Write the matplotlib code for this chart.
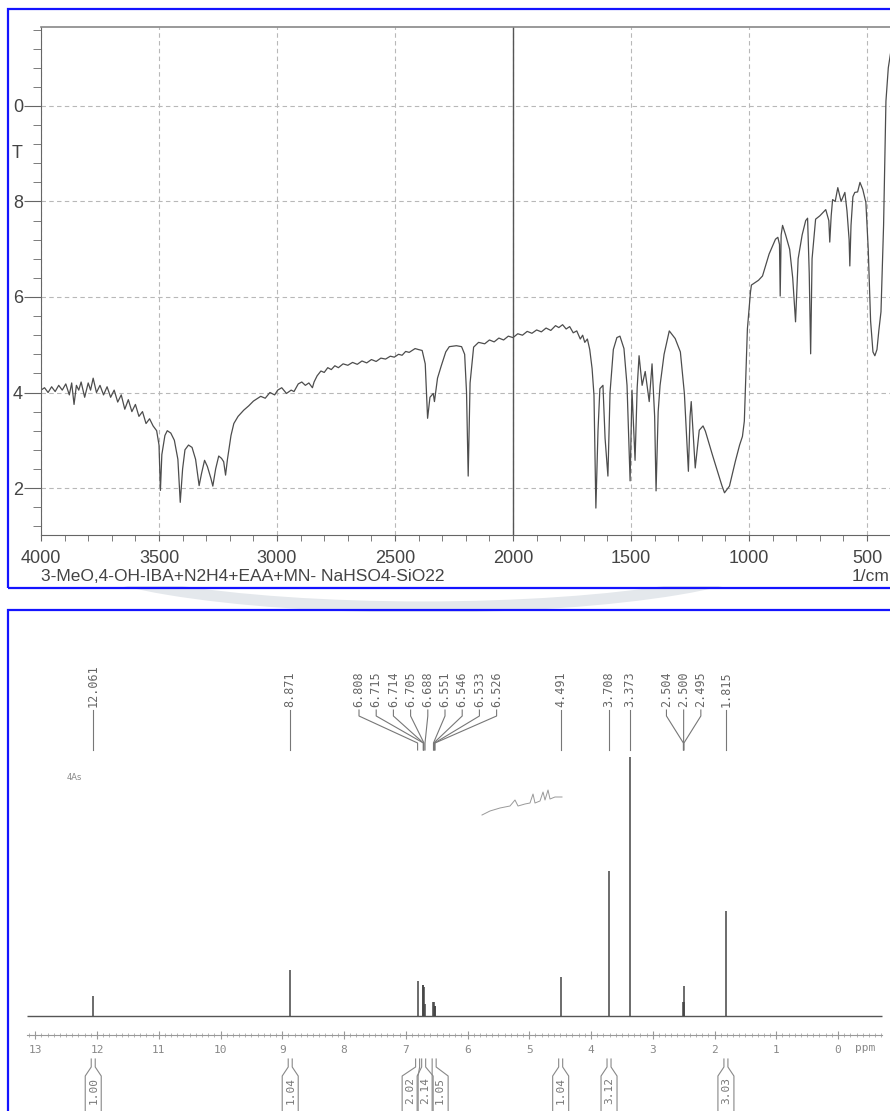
import numpy as np
import matplotlib.pyplot as plt
from matplotlib.ticker import MultipleLocator, FixedLocator
from matplotlib.patches import Rectangle, Arc

W, H = 890, 1111

# ---- IR spectrum (wavenumber, %T) ----
ir_wn = [4000, 3985, 3970, 3955, 3940, 3925, 3910, 3895, 3880, 3870,
         3860, 3850, 3840, 3830, 3815, 3800, 3790, 3779, 3765, 3750,
         3735, 3720, 3705, 3690, 3675, 3660, 3645, 3630, 3615, 3600,
         3585, 3570, 3555, 3540, 3525, 3510, 3500, 3494, 3488, 3475,
         3465, 3450, 3435, 3420, 3410, 3400, 3390, 3375, 3360, 3345,
         3330, 3320, 3307, 3295, 3280, 3272, 3260, 3247, 3235, 3226,
         3218, 3210, 3195, 3183, 3165, 3141, 3120, 3100, 3069, 3050,
         3030, 3010, 2997, 2980, 2960, 2940, 2928, 2910, 2895, 2880,
         2865, 2850, 2843, 2830, 2814, 2800, 2785, 2770, 2755, 2740,
         2720, 2700, 2680, 2660, 2640, 2620, 2600, 2580, 2560, 2540,
         2520, 2503, 2485, 2470, 2455, 2440, 2415, 2401, 2385, 2372,
         2362, 2352, 2338, 2333, 2320, 2304, 2285, 2270, 2240, 2218,
         2205, 2197, 2190, 2182, 2167, 2146, 2120, 2100, 2080, 2060,
         2040, 2020, 2000, 1980, 1960, 1940, 1920, 1900, 1880, 1860,
         1840, 1820, 1806, 1790, 1775, 1760, 1745, 1730, 1715, 1705,
         1696, 1685, 1675, 1665, 1657,
         1649, 1640, 1632, 1619, 1610, 1598, 1589, 1575, 1560, 1547,
         1530, 1517, 1504, 1496, 1483, 1474, 1466, 1453, 1440, 1423,
         1411, 1400, 1394, 1385, 1377, 1360, 1338, 1313, 1291, 1274,
         1257, 1250, 1245, 1228, 1211, 1195, 1185, 1155, 1134, 1115,
         1104, 1083, 1058, 1040, 1028, 1020, 1007, 994, 990, 960,
         943, 915, 888, 878, 871, 868, 864, 858, 845, 828,
         815, 803, 792, 775, 760, 752, 745, 739, 733, 718,
         700, 675, 662, 658, 652, 646, 635, 624, 610, 594,
         585, 576, 573, 568, 560, 552, 540, 530, 518, 505,
         495, 485, 475, 467, 458, 450, 441, 430, 420, 410,
         399]
ir_t = [4.05, 4.10, 4.00, 4.12, 4.02, 4.15, 4.05, 4.18, 3.95, 4.20,
        3.75, 4.15, 4.05, 4.22, 3.90, 4.20, 4.05, 4.30, 4.00, 4.15,
        3.95, 4.12, 3.90, 4.05, 3.80, 3.95, 3.65, 3.85, 3.60, 3.75,
        3.50, 3.60, 3.35, 3.45, 3.30, 3.20, 2.90, 1.95, 2.70, 3.10,
        3.20, 3.15, 3.00, 2.60, 1.70, 2.40, 2.80, 2.90, 2.85, 2.60,
        2.05, 2.30, 2.58, 2.45, 2.20, 2.04, 2.40, 2.67, 2.62, 2.55,
        2.27, 2.60, 3.10, 3.35, 3.50, 3.63, 3.72, 3.82, 3.92, 3.88,
        4.00, 3.95, 4.05, 4.10, 3.98, 4.05, 4.02, 4.18, 4.22, 4.15,
        4.20, 4.10, 4.22, 4.35, 4.45, 4.42, 4.52, 4.48, 4.56, 4.52,
        4.60, 4.57, 4.63, 4.59, 4.66, 4.62, 4.69, 4.65, 4.72, 4.70,
        4.76, 4.74, 4.80, 4.78, 4.86, 4.84, 4.92, 4.90, 4.88, 4.60,
        3.46, 3.90, 3.98, 3.81, 4.30, 4.56, 4.85, 4.96, 4.98, 4.96,
        4.80, 4.00, 2.25, 4.20, 4.95, 5.05, 5.02, 5.10, 5.06, 5.14,
        5.10, 5.18, 5.15, 5.23, 5.20, 5.28, 5.24, 5.31, 5.27, 5.35,
        5.30, 5.40, 5.36, 5.42, 5.33, 5.38, 5.25, 5.29, 5.12, 5.20,
        5.05, 5.12, 4.90, 4.50, 3.94,
        1.58, 3.20, 4.08, 4.15, 3.04, 2.25, 4.00, 4.90, 5.15, 5.18,
        4.92, 4.15, 2.15, 4.05, 2.58, 4.10, 4.77, 4.15, 4.44, 3.81,
        4.60, 3.50, 1.94, 3.60, 4.15, 4.80, 5.29, 5.13, 4.85, 3.98,
        2.35, 3.50, 3.81, 2.42, 3.21, 3.30, 3.19, 2.69, 2.35, 2.05,
        1.90, 2.04, 2.56, 2.90, 3.08, 3.40, 5.33, 6.10, 6.25, 6.35,
        6.44, 6.90, 7.21, 7.25, 7.10, 6.02, 7.30, 7.50, 7.30, 7.00,
        6.40, 5.48, 6.80, 7.30, 7.60, 7.65, 6.50, 4.81, 6.80, 7.63,
        7.70, 7.83, 7.60, 7.15, 7.70, 8.04, 8.00, 8.29, 8.00, 8.19,
        7.80, 7.20, 6.65, 7.50, 8.10, 8.19, 8.20, 8.40, 8.25, 7.98,
        7.00, 5.50, 4.85, 4.77, 4.90, 5.30, 5.69, 7.50, 10.10, 10.80,
        11.15]
ir_caption = "3-MeO,4-OH-IBA+N2H4+EAA+MN- NaHSO4-SiO22"
ir_yticks = [2, 4, 6, 8, 10]
ir_yticklabels = ["2", "4", "6", "8", "0"]

# ---- 1H NMR peaks ----
nmr_ppm = [12.061, 8.871, 6.808, 6.715, 6.714, 6.705, 6.688, 6.551, 6.546,
           6.533, 6.526, 4.491, 3.708, 3.373, 2.504, 2.500, 2.495, 1.815]
nmr_height = [20, 46, 35, 31, 31, 29, 12, 14, 14, 10, 10, 39, 145, 259,
              14, 30, 14, 105]
label_groups = [[0], [1], [2, 3, 4, 5, 6, 7, 8, 9, 10], [11], [12], [13],
                [14, 15, 16], [17]]
integral_ppm = [12.061, 8.871, 6.808, 6.710, 6.540, 4.491, 3.708, 1.815]
integral_val = ["1.00", "1.04", "2.02", "2.14", "1.05", "1.04", "3.12", "3.03"]
# small expanded trace drawn near 5 ppm
inset_ppm = [5.765, 5.636, 5.474, 5.312, 5.231, 5.182, 5.069, 4.988, 4.939,
             4.907, 4.826, 4.777, 4.745, 4.696, 4.664, 4.583, 4.470]
inset_int = [201, 205, 208, 210, 216, 210, 212, 213, 222, 213, 215, 224,
             216, 226, 217, 219, 219]


def frect(x0, y0, x1, y1):
    return [x0 / W, 1 - y1 / H, (x1 - x0) / W, (y1 - y0) / H]


def px2ppm(px):
    return 12 - (px - 97) / 61.75


def py2val(py):
    return 1016 - py


fig = plt.figure(figsize=(W / 100, H / 100), dpi=100)

# faint watermark arc between the panels
wm = fig.add_axes(frect(0, 586, W, 612))
wm.set_xlim(0, W)
wm.set_ylim(612, 586)
wm.axis('off')
wm.add_patch(Arc((423, 547), 720, 120, theta1=0, theta2=180, lw=8,
                 ec='#e4e8ec'))

# ---------------- IR panel ----------------
ax1 = fig.add_axes(frect(41, 27, 890, 535))
ax1.plot(ir_wn, ir_t, color='#4d4d4d', lw=0.9)
ax1.set_xlim(4000, 4000 - 849 * 4.237)
ax1.set_ylim(1.016, 11.654)
ax1.xaxis.set_major_locator(MultipleLocator(500))
ax1.xaxis.set_minor_locator(MultipleLocator(100))
ax1.set_yticks(ir_yticks)
ax1.set_yticklabels(ir_yticklabels)
ax1.yaxis.set_minor_locator(MultipleLocator(0.4))
ax1.grid(which='major', color='#b8b8b8', ls=(0, (4, 3)), lw=0.8)
ax1.axvline(2000, color='#555555', lw=1.0)
for s in ['left', 'bottom']:
    ax1.spines[s].set_color('#666666')
ax1.spines['top'].set_color('#888888')
ax1.spines['top'].set_linewidth(1.2)
ax1.spines['right'].set_visible(False)
ax1.tick_params(axis='y', which='major', length=12, color='#666666', pad=1,
                labelsize=13, labelcolor='#444444',
                labelfontfamily='Liberation Sans')
ax1.tick_params(axis='y', which='minor', length=6, color='#666666')
ax1.tick_params(axis='x', which='both', length=4, color='#666666')
ax1.tick_params(axis='x', which='major', pad=7, labelsize=13,
                labelcolor='#444444', labelfontfamily='Liberation Sans')

fig.text(17 / W, 1 - 153 / H, "T", ha='center', va='center', fontsize=13,
         color='#444444', family='Liberation Sans')
fig.text(41 / W, 1 - 577 / H, ir_caption, ha='left', va='center',
         fontsize=12.5, color='#444444', family='Liberation Sans')
fig.text(852 / W, 1 - 577 / H, "1/cm", ha='left', va='center',
         fontsize=12.5, color='#444444', family='Liberation Sans')

# ---------------- NMR panel ----------------
ax2 = fig.add_axes(frect(8, 610, 890, 1111))
ax2.patch.set_alpha(0)
ax2.set_xlim(px2ppm(8), px2ppm(890))
ax2.set_ylim(py2val(1111), py2val(610))

ax2.hlines(0, px2ppm(27), px2ppm(882), color='#555555', lw=1.0)
ax2.vlines(nmr_ppm, 0, nmr_height, color='#444444', lw=1.1)

for s in ['left', 'right', 'top']:
    ax2.spines[s].set_visible(False)
ax2.set_yticks([])
ax2.spines['bottom'].set_position(('data', py2val(1035)))
ax2.spines['bottom'].set_bounds(px2ppm(27), px2ppm(882))
ax2.spines['bottom'].set_color('#999999')
ax2.xaxis.set_major_locator(FixedLocator(range(0, 14)))
ax2.xaxis.set_minor_locator(FixedLocator(np.arange(-0.7, 13.15, 0.1)))
ax2.set_xticklabels([str(i) for i in range(0, 14)])
ax2.tick_params(axis='x', which='major', direction='inout', length=6,
                color='#999999', pad=4, labelsize=8, labelcolor='#888888',
                labelfontfamily='DejaVu Sans Mono')
ax2.tick_params(axis='x', which='minor', direction='inout', length=3,
                color='#aaaaaa')
ax2.text(px2ppm(855), py2val(1048), "ppm", ha='left', va='center',
         fontsize=8, color='#888888', family='DejaVu Sans Mono')

# peak labels with leader lines
mono = 'DejaVu Sans Mono'
step = 17.2 / 61.75
for grp in label_groups:
    n = len(grp)
    centre = np.mean([nmr_ppm[i] for i in grp])
    for k, i in enumerate(grp):
        p = nmr_ppm[i]
        lx = p if n == 1 else centre + ((n - 1) / 2 - k) * step
        ax2.text(lx, py2val(707), f"{p:.3f}", rotation=90, ha='center',
                 va='bottom', fontsize=8.5, family=mono, color='#666666')
        ax2.plot([lx, lx, p, p],
                 [py2val(710), py2val(716), py2val(743), py2val(750)],
                 color='#777777', lw=0.8)

# integrals below the scale
hn = 2 / 61.75
hr = 8 / 61.75
rect_x = list(integral_ppm)
mid = np.mean(integral_ppm[2:5])
for k, j in enumerate([2, 3, 4]):
    rect_x[j] = mid + (1 - k) * 15 / 61.75
for nx, rx, val in zip(integral_ppm, rect_x, integral_val):
    ys = [py2val(1059), py2val(1067), py2val(1076), py2val(1120)]
    ax2.plot([nx - hn, nx - hn, rx - hr, rx - hr], ys, color='#888888', lw=0.8)
    ax2.plot([nx + hn, nx + hn, rx + hr, rx + hr], ys, color='#888888', lw=0.8)
    ax2.text(rx, py2val(1091), val, rotation=90, ha='center', va='center',
             fontsize=8, family=mono, color='#777777')

ax2.plot(inset_ppm, inset_int, color='#999999', lw=0.7)
ax2.text(px2ppm(67), py2val(777), "4As", ha='left', va='center',
         fontsize=6, color='#888888')

# blue frames around both panels
fig.add_artist(Rectangle((8 / W, 1 - 588 / H), 900 / W, 579 / H,
                         transform=fig.transFigure, fill=False,
                         ec='#1414ff', lw=1.6))
fig.add_artist(Rectangle((8 / W, -0.02), 900 / W, 501 / H + 0.02,
                         transform=fig.transFigure, fill=False,
                         ec='#1414ff', lw=1.6))

fig.savefig('out.png', dpi=100)
